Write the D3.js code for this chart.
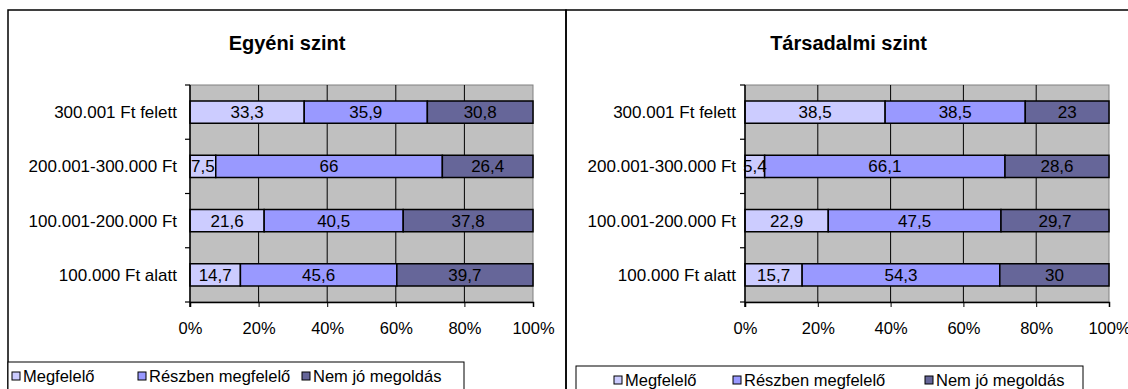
<!DOCTYPE html>
<html>
<head>
<meta charset="utf-8">
<script src="https://cdn.jsdelivr.net/npm/d3@7"></script>
<style>
  body { margin: 0; background: #fff; }
  svg text { font-family: "Liberation Sans", Arial, sans-serif; fill: #000; }
</style>
</head>
<body>
<div id="chart"></div>
<script>
const categories = ["300.001 Ft felett", "200.001-300.000 Ft", "100.001-200.000 Ft", "100.000 Ft alatt"];
const seriesNames = ["Megfelelő", "Részben megfelelő", "Nem jó megoldás"];
const seriesColors = ["#ccccff", "#9999ff", "#666699"];
const xTicks = [0, 20, 40, 60, 80, 100];

// Egyéni szint
const egyeniMegfelelo = [33.3, 7.5, 21.6, 14.7];
const egyeniReszben = [35.9, 66, 40.5, 45.6];
const egyeniNemJo = [30.8, 26.4, 37.8, 39.7];

// Társadalmi szint
const tarsMegfelelo = [38.5, 5.4, 22.9, 15.7];
const tarsReszben = [38.5, 66.1, 47.5, 54.3];
const tarsNemJo = [23, 28.6, 29.7, 30];

const width = 1128, height = 389;

const svg = d3.select("#chart").append("svg")
    .attr("width", width)
    .attr("height", height);

const panels = [
    {title: "Egyéni szint", series: [egyeniMegfelelo, egyeniReszben, egyeniNemJo],
     box: {x0: 8, x1: 566, y0: 10}, plot: {left: 190, right: 533, top: 85, bottom: 302},
     labelGap: 13, legend: {x: 8, y: 362, w: 456, items: [4, 130, 294]}},
    {title: "Társadalmi szint", series: [tarsMegfelelo, tarsReszben, tarsNemJo],
     box: {x0: 566, x1: 1131, y0: 10}, plot: {left: 745, right: 1109, top: 85, bottom: 302},
     labelGap: 9, legend: {x: 576, y: 366, w: 507, items: [38, 157, 349]}}
];

const fmt = v => String(v).replace(".", ",");

panels.forEach(function(p) {
    const g = svg.append("g");

    // outer frame of the chart
    g.append("rect")
        .attr("x", p.box.x0).attr("y", p.box.y0)
        .attr("width", p.box.x1 - p.box.x0).attr("height", height + 20)
        .attr("fill", "none").attr("stroke", "#000").attr("stroke-width", 1.5);

    g.append("text")
        .attr("x", (p.box.x0 + p.box.x1) / 2)
        .attr("y", 50)
        .attr("text-anchor", "middle")
        .style("font-size", "20px")
        .style("font-weight", "bold")
        .text(p.title);

    const x = d3.scaleLinear().domain([0, 100]).range([p.plot.left, p.plot.right]);
    const y = d3.scaleBand().domain(categories).range([p.plot.top, p.plot.bottom]);
    const barH = y.bandwidth() * 0.41;

    // plot background
    g.append("rect")
        .attr("x", x(0)).attr("y", p.plot.top)
        .attr("width", x(100) - x(0)).attr("height", p.plot.bottom - p.plot.top)
        .attr("fill", "#c0c0c0").attr("stroke", "#808080").attr("stroke-width", 1);

    // vertical gridlines
    g.selectAll(".grid")
        .data(xTicks.slice(1, -1))
        .enter().append("line")
        .attr("x1", d => x(d)).attr("x2", d => x(d))
        .attr("y1", p.plot.top).attr("y2", p.plot.bottom)
        .attr("stroke", "#000").attr("stroke-width", 1);

    // stacked bars (100% normalised per row)
    const rows = categories.map(function(c, i) {
        const vals = p.series.map(s => s[i]);
        const total = d3.sum(vals);
        let acc = 0;
        return vals.map(function(v, k) {
            const seg = {cat: c, k: k, v: v, x0: acc / total * 100, x1: (acc + v) / total * 100};
            acc += v;
            return seg;
        });
    });
    const segs = rows.flat();

    g.selectAll(".bar")
        .data(segs)
        .enter().append("rect")
        .attr("x", d => x(d.x0))
        .attr("y", d => y(d.cat) + (y.bandwidth() - barH) / 2)
        .attr("width", d => x(d.x1) - x(d.x0))
        .attr("height", barH)
        .attr("fill", d => seriesColors[d.k])
        .attr("stroke", "#000")
        .attr("stroke-width", 1.5);

    g.selectAll(".val")
        .data(segs)
        .enter().append("text")
        .attr("x", d => x((d.x0 + d.x1) / 2))
        .attr("y", d => y(d.cat) + y.bandwidth() / 2 + 6)
        .attr("text-anchor", "middle")
        .style("font-size", "17px")
        .text(d => fmt(d.v));

    // axes
    g.append("g")
        .attr("transform", "translate(0," + p.plot.bottom + ")")
        .call(d3.axisBottom(x).tickValues(xTicks).tickSize(5).tickPadding(15).tickFormat(d => d + "%"))
        .call(a => a.select(".domain").attr("stroke-width", 1.5))
        .call(a => a.selectAll("text").style("font-size", "16.5px").attr("font-family", null));

    const yAxis = g.append("g")
        .attr("transform", "translate(" + p.plot.left + ",0)");
    yAxis.append("line")
        .attr("x1", 0).attr("x2", 0)
        .attr("y1", p.plot.top).attr("y2", p.plot.bottom + 5)
        .attr("stroke", "#000").attr("stroke-width", 1.5);
    yAxis.selectAll(".tk")
        .data(categories.concat([null]))
        .enter().append("line")
        .attr("x1", -5).attr("x2", 0)
        .attr("y1", d => d === null ? p.plot.bottom : y(d))
        .attr("y2", d => d === null ? p.plot.bottom : y(d))
        .attr("stroke", "#000").attr("stroke-width", 1.2);
    yAxis.selectAll(".lbl")
        .data(categories)
        .enter().append("text")
        .attr("x", -p.labelGap)
        .attr("y", d => y(d) + y.bandwidth() / 2 + 6)
        .attr("text-anchor", "end")
        .style("font-size", "17px")
        .text(d => d);

    // legend
    const lg = g.append("g").attr("transform", "translate(" + p.legend.x + "," + p.legend.y + ")");
    lg.append("rect")
        .attr("width", p.legend.w).attr("height", 40)
        .attr("fill", "#fff").attr("stroke", "#000").attr("stroke-width", 1);
    const item = lg.selectAll(".item")
        .data(seriesNames)
        .enter().append("g")
        .attr("transform", (d, i) => "translate(" + p.legend.items[i] + ",0)");
    item.append("rect")
        .attr("x", 0).attr("y", 10)
        .attr("width", 8).attr("height", 8)
        .attr("fill", (d, i) => seriesColors[i])
        .attr("stroke", "#000").attr("stroke-width", 1);
    item.append("text")
        .attr("x", 11).attr("y", 20)
        .style("font-size", "16.5px")
        .text(d => d);
});
</script>
</body>
</html>
